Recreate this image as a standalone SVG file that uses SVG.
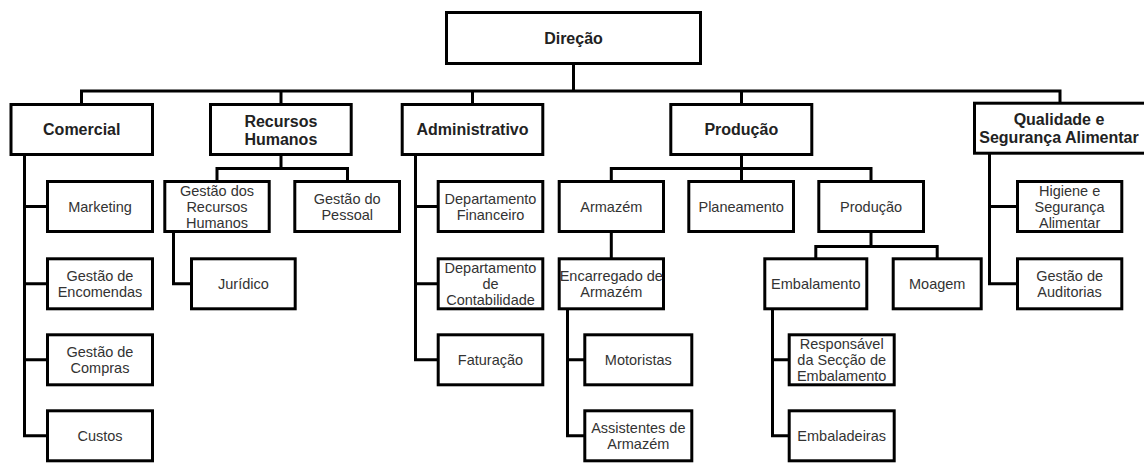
<svg xmlns="http://www.w3.org/2000/svg" width="1144" height="464" viewBox="0 0 1144 464">
<style>
rect.b{fill:#fff;stroke:#000;stroke-width:3}
.c{fill:none;stroke:#000;stroke-width:3;stroke-linecap:square;stroke-linejoin:miter}
text{font-family:"Liberation Sans",Arial,sans-serif;text-anchor:middle}
.h{font-size:16px;font-weight:bold;fill:#222}
.t{font-size:14.5px;fill:#333}
</style>
<rect width="1144" height="464" fill="#fff"/>
<g id="connectors">
<path class="c" d="M573.5 64V91M81.5 91H1060M81.5 91V104.5M281 91V104.5M472.5 91V104.5M741.5 91V104.5M1060 91V103"/>
<path class="c" d="M24.5 154.5V435.8M24.5 206.5H47.5M24.5 283.8H47.5M24.5 359.8H47.5M24.5 435.8H47.5"/>
<path class="c" d="M281 154.5V168.5M217 168.5H347.5M217 168.5V181.5M347.5 168.5V181.5"/>
<path class="c" d="M173.5 231.5V283.8H191.5"/>
<path class="c" d="M415.5 154.5V359.8M415.5 206.5H438.2M415.5 283.8H438.2M415.5 359.8H438.2"/>
<path class="c" d="M741.5 154.5V181.5M611.3 168.5H871M611.3 168.5V181.5M871 168.5V181.5"/>
<path class="c" d="M611.3 231.5V258.8"/>
<path class="c" d="M567.5 308.8V435.8M567.5 359.8H584.8M567.5 435.8H584.8"/>
<path class="c" d="M871 231.5V246.5M815.8 246.5H937.2M815.8 246.5V258.8M937.2 246.5V258.8"/>
<path class="c" d="M772.5 308.8V435.8M772.5 359.8H789.2M772.5 435.8H789.2"/>
<path class="c" d="M989.5 153.2V283.8M989.5 206.5H1017.5M989.5 283.8H1017.5"/>
</g>
<g id="direcao"><rect class="b" x="446.5" y="12.5" width="254" height="51"/><text class="h" x="573.5" y="43.5">Direção</text></g>
<g id="comercial"><rect class="b" x="11" y="104.5" width="141.5" height="50"/><text class="h" x="81.75" y="135">Comercial</text></g>
<g id="recursos-humanos"><rect class="b" x="210.5" y="104.5" width="140.7" height="50"/><text class="h" x="280.85" y="126.5">Recursos<tspan x="280.85" dy="18">Humanos</tspan></text></g>
<g id="administrativo"><rect class="b" x="402.2" y="104.5" width="140.6" height="50"/><text class="h" x="472.5" y="135">Administrativo</text></g>
<g id="producao"><rect class="b" x="670.8" y="104.5" width="141" height="50"/><text class="h" x="741.3" y="135">Produção</text></g>
<g id="qualidade"><rect class="b" x="974.5" y="103.2" width="175" height="50"/><text class="h" x="1059" y="125">Qualidade e<tspan x="1059" dy="18">Segurança Alimentar</tspan></text></g>

<g id="marketing"><rect class="b" x="47.5" y="181.5" width="105" height="50"/><text class="t" x="100" y="211.5">Marketing</text></g>
<g id="gestao-encomendas"><rect class="b" x="47.5" y="258.8" width="105" height="50"/><text class="t" x="100" y="280.8">Gestão de<tspan x="100" dy="16">Encomendas</tspan></text></g>
<g id="gestao-compras"><rect class="b" x="47.5" y="334.8" width="105" height="50"/><text class="t" x="100" y="356.8">Gestão de<tspan x="100" dy="16">Compras</tspan></text></g>
<g id="custos"><rect class="b" x="47.5" y="410.8" width="105" height="50"/><text class="t" x="100" y="440.8">Custos</text></g>

<g id="gestao-rh"><rect class="b" x="164.8" y="181.5" width="104.4" height="50"/><text class="t" x="217" y="195.5">Gestão dos<tspan x="217" dy="16">Recursos</tspan><tspan x="217" dy="16">Humanos</tspan></text></g>
<g id="gestao-pessoal"><rect class="b" x="294.8" y="181.5" width="104.7" height="50"/><text class="t" x="347.2" y="203.5">Gestão do<tspan x="347.2" dy="16">Pessoal</tspan></text></g>
<g id="juridico"><rect class="b" x="191.5" y="258.8" width="103.7" height="50"/><text class="t" x="243.4" y="288.8">Jurídico</text></g>

<g id="dep-financeiro"><rect class="b" x="438.2" y="181.5" width="104.6" height="50"/><text class="t" x="490.5" y="203.5">Departamento<tspan x="490.5" dy="16">Financeiro</tspan></text></g>
<g id="dep-contabilidade"><rect class="b" x="438.2" y="258.8" width="104.6" height="50"/><text class="t" x="490.5" y="272.8">Departamento<tspan x="490.5" dy="16">de</tspan><tspan x="490.5" dy="16">Contabilidade</tspan></text></g>
<g id="faturacao"><rect class="b" x="438.2" y="334.8" width="104.6" height="50"/><text class="t" x="490.5" y="364.8">Faturação</text></g>

<g id="armazem"><rect class="b" x="559.2" y="181.5" width="104.3" height="50"/><text class="t" x="611.3" y="211.5">Armazém</text></g>
<g id="planeamento"><rect class="b" x="688.8" y="181.5" width="104.7" height="50"/><text class="t" x="741.2" y="211.5">Planeamento</text></g>
<g id="producao-sub"><rect class="b" x="818.8" y="181.5" width="104.7" height="50"/><text class="t" x="871.1" y="211.5">Produção</text></g>

<g id="encarregado"><rect class="b" x="559.2" y="258.8" width="104.3" height="50"/><text class="t" x="611.3" y="280.8">Encarregado de<tspan x="611.3" dy="16">Armazém</tspan></text></g>
<g id="motoristas"><rect class="b" x="584.8" y="334.8" width="107" height="50"/><text class="t" x="638.3" y="364.8">Motoristas</text></g>
<g id="assistentes"><rect class="b" x="584.8" y="410.8" width="107" height="50"/><text class="t" x="638.3" y="432.8">Assistentes de<tspan x="638.3" dy="16">Armazém</tspan></text></g>

<g id="embalamento"><rect class="b" x="764.8" y="258.8" width="102" height="50"/><text class="t" x="815.8" y="288.8">Embalamento</text></g>
<g id="moagem"><rect class="b" x="893.2" y="258.8" width="88" height="50"/><text class="t" x="937.2" y="288.8">Moagem</text></g>
<g id="responsavel"><rect class="b" x="789.2" y="334.8" width="105" height="50"/><text class="t" x="841.7" y="348.8">Responsável<tspan x="841.7" dy="16">da Secção de</tspan><tspan x="841.7" dy="16">Embalamento</tspan></text></g>
<g id="embaladeiras"><rect class="b" x="789.2" y="410.8" width="105" height="50"/><text class="t" x="841.7" y="440.8">Embaladeiras</text></g>

<g id="higiene"><rect class="b" x="1017.5" y="181.5" width="104.3" height="50"/><text class="t" x="1069.6" y="195.5">Higiene e<tspan x="1069.6" dy="16">Segurança</tspan><tspan x="1069.6" dy="16">Alimentar</tspan></text></g>
<g id="auditorias"><rect class="b" x="1017.5" y="258.8" width="104.3" height="50"/><text class="t" x="1069.6" y="280.8">Gestão de<tspan x="1069.6" dy="16">Auditorias</tspan></text></g>
</svg>
